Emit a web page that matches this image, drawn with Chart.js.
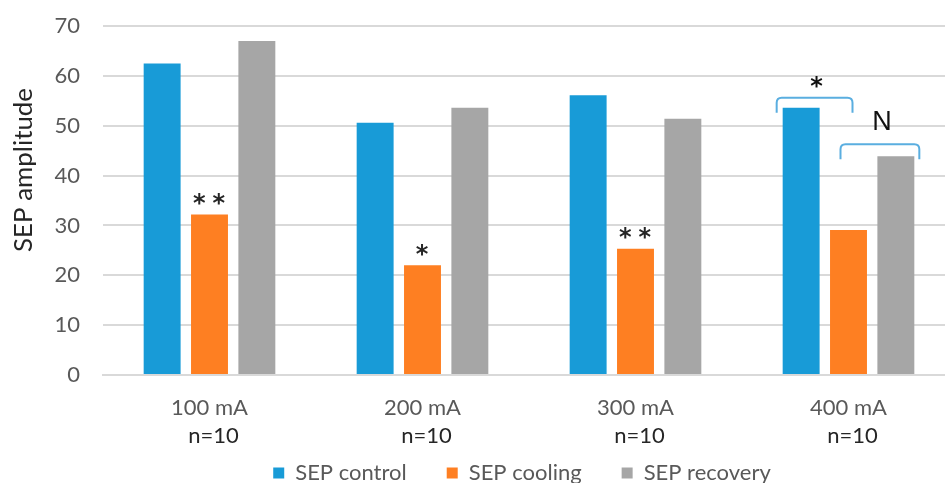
<!DOCTYPE html>
<html>
<head>
<meta charset="utf-8">
<script src="https://cdn.jsdelivr.net/npm/chart.js@4.4.1/dist/chart.umd.min.js"></script>
<style>
  html, body { margin: 0; padding: 0; background: #fff; overflow: hidden; }
  .wrap { width: 960px; height: 483px; }
</style>
</head>
<body>
<div class="wrap"><canvas id="chart" width="960" height="483"></canvas></div>
<script>
const categories = ['100 mA', '200 mA', '300 mA', '400 mA'];
const nLabels = ['n=10', 'n=10', 'n=10', 'n=10'];
const sepControl = [62.5, 50.6, 56.1, 53.6];
const sepCooling = [32.2, 22.0, 25.3, 29.1];
const sepRecovery = [67.0, 53.6, 51.4, 43.9];
const coolingMarks = ['**', '*', '**', ''];
const yTitle = 'SEP amplitude';
// brackets over the 400 mA group: dataset index from/to
const brackets = [
    { cat: 3, from: 0, to: 1, label: '*' },
    { cat: 3, from: 1, to: 2, label: 'N' },
];

const colors = {
    control: '#189bd7',
    cooling: '#fe7f22',
    recovery: '#a6a6a6',
    bracket: '#5aaee0',
};
const FONT = 'Lato';

// left/right offsets and lift for each bracket, px
const bracketStyle = [
    { l: -24, r: 4, lift: 10, labelUp: 16, font: 'bold 24px "DejaVu Sans"' },
    { l: -8, r: 24, lift: 12, labelUp: 22, font: '27px "Liberation Sans"' },
];

const markPlugin = {
    id: 'marks',
    afterLayout(chart) {
        // nudge the legend a bit left, as in the original
        chart.legend.left -= 7;
        chart.legend.right -= 7;
    },
    afterDraw(chart) {
        const ctx = chart.ctx;
        const xs = chart.scales.x;
        const area = chart.chartArea;

        ctx.save();
        ctx.textAlign = 'center';
        ctx.textBaseline = 'middle';

        // y axis title, sits a bit above the middle in the original
        ctx.fillStyle = '#262626';
        ctx.font = `23px ${FONT}`;
        const tw = ctx.measureText(yTitle).width;
        const size = 23 * 164 / tw;
        ctx.font = `${size.toFixed(1)}px ${FONT}`;
        ctx.save();
        ctx.translate(24, 170);
        ctx.rotate(-Math.PI / 2);
        ctx.fillText(yTitle, 0, 0);
        ctx.restore();

        // n=10 line under the category labels
        ctx.font = `22px ${FONT}`;
        nLabels.forEach((t, i) => {
            ctx.fillText(t, xs.getPixelForTick(i) + 4, area.bottom + 61);
        });

        // significance stars above cooling bars
        const cool = chart.getDatasetMeta(1).data;
        ctx.font = 'bold 24px "DejaVu Sans"';
        ctx.letterSpacing = '7px';
        coolingMarks.forEach((t, i) => {
            if (!t) return;
            const bar = cool[i];
            ctx.fillText(t, bar.x + 3, bar.y - 10);
        });
        ctx.letterSpacing = '0px';

        // brackets
        brackets.forEach((b, k) => {
            const st = bracketStyle[k];
            const a = chart.getDatasetMeta(b.from).data[b.cat];
            const c = chart.getDatasetMeta(b.to).data[b.cat];
            const w = a.width;
            let left, right;
            if (k === 0) {
                left = a.x - w / 2 - 6;
                right = c.x + st.r;
            } else {
                left = a.x + st.l;
                right = c.x + w / 2 + 5;
            }
            let topBar = area.bottom;
            for (let d = b.from; d <= b.to; d++) {
                topBar = Math.min(topBar, chart.getDatasetMeta(d).data[b.cat].y);
            }
            const top = topBar - st.lift;
            const hook = 15;
            const r = 5;
            ctx.strokeStyle = colors.bracket;
            ctx.lineWidth = 2;
            ctx.beginPath();
            ctx.moveTo(left, top + hook);
            ctx.lineTo(left, top + r);
            ctx.quadraticCurveTo(left, top, left + r, top);
            ctx.lineTo(right - r, top);
            ctx.quadraticCurveTo(right, top, right, top + r);
            ctx.lineTo(right, top + hook);
            ctx.stroke();

            ctx.fillStyle = '#111';
            ctx.font = st.font;
            ctx.fillText(b.label, (left + right) / 2 + 2, top - st.labelUp + (k === 0 ? 6 : 0));
        });
        ctx.restore();
    },
};

function makeSet(label, values, color) {
    return {
        label,
        data: values,
        backgroundColor: color,
        borderWidth: 0,
        barPercentage: 0.78,
        categoryPercentage: 0.667,
    };
}

const ctx = document.getElementById('chart');
new Chart(ctx, {
    type: 'bar',
    data: {
        labels: categories,
        datasets: [
            makeSet('SEP control', sepControl, colors.control),
            makeSet('SEP cooling', sepCooling, colors.cooling),
            makeSet('SEP recovery', sepRecovery, colors.recovery),
        ],
    },
    options: {
        responsive: false,
        animation: false,
        devicePixelRatio: 1,
        layout: { padding: { top: 26, left: 7, right: 5, bottom: -11 } },
        plugins: {
            tooltip: { enabled: false },
            legend: {
                position: 'bottom',
                fullSize: false,
                labels: {
                    boxWidth: 11,
                    boxHeight: 11,
                    padding: 40,
                    color: '#595959',
                    font: { family: FONT, size: 22 },
                },
            },
        },
        scales: {
            x: {
                grid: { display: false, drawTicks: false },
                border: { color: '#d9d9d9', width: 2 },
                ticks: { color: '#595959', font: { family: FONT, size: 22 }, padding: 20 },
                afterFit(s) { s.height = 47; },
            },
            y: {
                min: 0,
                max: 70,
                ticks: { stepSize: 10, color: '#595959', font: { family: FONT, size: 22 }, padding: 23 },
                grid: { color: '#d9d9d9', lineWidth: 2, drawTicks: false },
                border: { display: false },
                afterFit(s) {
                    s.width = 96;
                    s.paddingTop = 0;
                    s.paddingBottom = 0;
                },
            },
        },
    },
    plugins: [markPlugin],
});
</script>
</body>
</html>
